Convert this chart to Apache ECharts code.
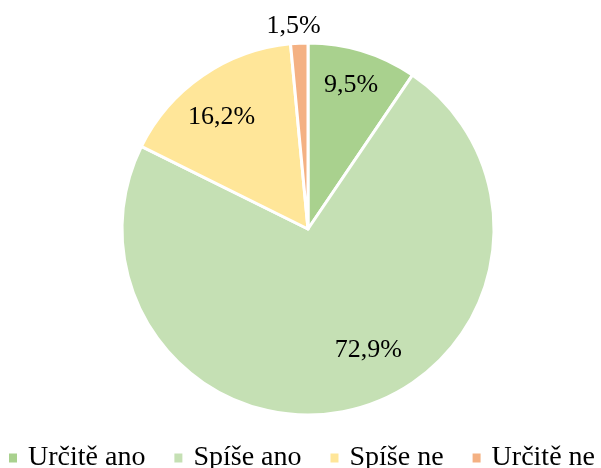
<!DOCTYPE html>
<html><head><meta charset="utf-8">
<script src="https://cdn.jsdelivr.net/npm/echarts@6/dist/echarts.min.js"></script>
<style>html,body{margin:0;padding:0;background:#fff}#c{width:601px;height:468px}</style>
</head><body><div id="c"></div>
<script>
var categories = ['Určitě ano', 'Spíše ano', 'Spíše ne', 'Určitě ne'];
var values = [9.5, 72.9, 16.2, 1.5];
var labels = ['9,5%', '72,9%', '16,2%', '1,5%'];
var colors = ['#A9D18E', '#C5E0B4', '#FFE699', '#F4B183'];
var labelShift = [[15, -52], [36, 28], [-32, -33], [-10, -107]];

var chart = echarts.init(document.getElementById('c'));
chart.setOption({
  animation: false,
  color: colors,
  legend: {
    bottom: -4, left: 9, width: 650, padding: 0,
    icon: 'rect', itemWidth: 8, itemHeight: 9, itemGap: 29,
    itemStyle: {borderWidth: 0},
    textStyle: {fontFamily: 'Liberation Serif', fontSize: 28, color: '#000', padding: [0, 0, 0, 6]},
    data: categories
  },
  series: [{
    type: 'pie',
    center: [308, 229],
    radius: 186,
    startAngle: 90,
    clockwise: true,
    itemStyle: {borderColor: '#fff', borderWidth: 3},
    label: {
      show: true, position: 'inside',
      fontFamily: 'Liberation Serif', fontSize: 26, color: '#000',
      formatter: function (p) { return labels[p.dataIndex]; }
    },
    labelLine: {show: false},
    emphasis: {disabled: true},
    labelLayout: function (p) {
      return {dx: labelShift[p.dataIndex][0], dy: labelShift[p.dataIndex][1]};
    },
    data: categories.map(function (c, i) { return {name: c, value: values[i]}; })
  }]
});
</script></body></html>
